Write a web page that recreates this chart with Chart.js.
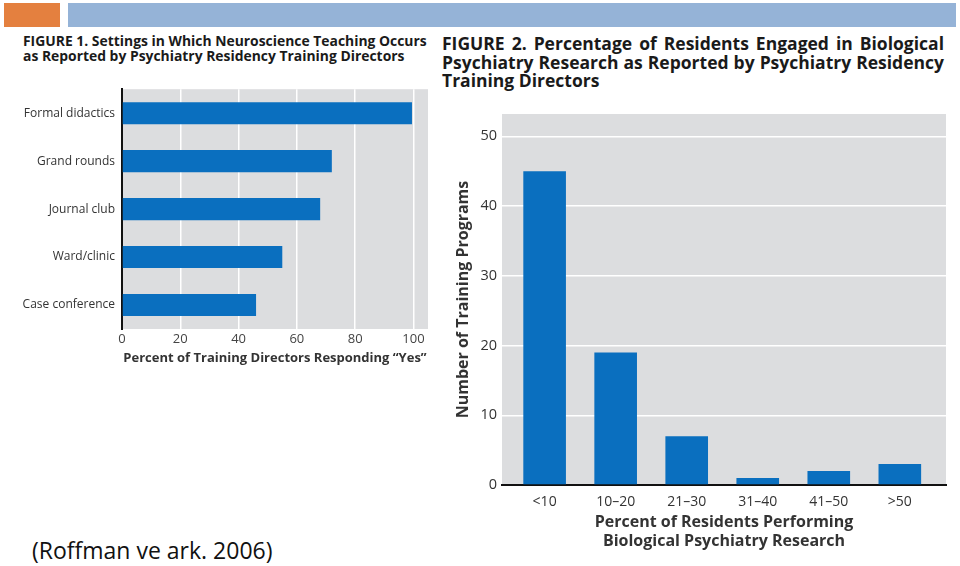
<!DOCTYPE html>
<html>
<head>
<meta charset="utf-8">
<script src="https://cdn.jsdelivr.net/npm/chart.js@4.4.0/dist/chart.umd.min.js"></script>
<style>
  body { margin: 0; width: 960px; height: 566px; background: #fff; position: relative; overflow: hidden; font-family: "Open Sans", sans-serif; color: #222; }
  .abs { position: absolute; }
  .t1 { left: 23px; top: 33px; font-size: 13.9px; line-height: 15px; font-weight: bold; white-space: nowrap; color: #1a1a1a; }
  .t2 { left: 442px; top: 34px; width: 502px; font-size: 17.5px; line-height: 18.5px; font-weight: bold; color: #1a1a1a; }
  .t2 .j { text-align: justify; text-align-last: justify; white-space: nowrap; }
  .cite { left: 32px; top: 535px; font-size: 23px; line-height: 31px; color: #111; white-space: nowrap; }
</style>
</head>
<body>
<div class="abs" style="left:4px;top:3px;width:56px;height:24px;background:#e4803f"></div>
<div class="abs" style="left:68px;top:3px;width:888px;height:24px;background:#95b3d7"></div>

<div class="abs t1">FIGURE 1. Settings in Which Neuroscience Teaching Occurs<br>as Reported by Psychiatry Residency Training Directors</div>
<div class="abs t2">
  <div class="j">FIGURE 2. Percentage of Residents Engaged in Biological</div>
  <div class="j">Psychiatry Research as Reported by Psychiatry Residency</div>
  <div>Training Directors</div>
</div>

<div class="abs" style="left:0;top:75px;width:440px;height:291px"><canvas id="chart1"></canvas></div>
<div class="abs" style="left:440px;top:100px;width:520px;height:460px"><canvas id="chart2"></canvas></div>

<div class="abs cite">(Roffman ve ark. 2006)</div>

<script>
const settings = ['Formal didactics', 'Grand rounds', 'Journal club', 'Ward/clinic', 'Case conference'];
const settingPercent = [99.5, 72, 68, 55, 46];

const residentBins = ['<10', '10\u201320', '21\u201330', '31\u201340', '41\u201350', '>50'];
const programCounts = [45, 19, 7, 1, 2, 3];

const barBlue = '#0a6fbf';
const plotGray = '#dcdddf';
const fontFamily = '"Open Sans", sans-serif';

const grayBackground = {
    id: 'grayBackground',
    beforeDraw(chart) {
        const a = chart.chartArea;
        const ctx = chart.ctx;
        ctx.save();
        ctx.fillStyle = plotGray;
        ctx.fillRect(a.left, a.top, a.right - a.left, a.bottom - a.top);
        ctx.restore();
    }
};

Chart.defaults.animation = false;
Chart.defaults.font.family = fontFamily;
Chart.defaults.color = '#333';

new Chart(document.getElementById('chart1').getContext('2d'), {
    type: 'bar',
    data: {
        labels: settings,
        datasets: [{
            data: settingPercent,
            backgroundColor: barBlue,
            categoryPercentage: 1,
            barPercentage: 0.46
        }]
    },
    options: {
        indexAxis: 'y',
        responsive: true,
        maintainAspectRatio: false,
        layout: { padding: { top: 0, right: 12, left: 0, bottom: 0 } },
        plugins: { legend: { display: false }, tooltip: { enabled: false } },
        scales: {
            x: {
                min: 0,
                max: 105,
                ticks: { stepSize: 20, includeBounds: false, padding: 2, font: { size: 13 }, color: '#444' },
                grid: {
                    drawTicks: false,
                    lineWidth: 1.5,
                    color: ctx => ctx.tick && ctx.tick.value === 0 ? 'rgba(0,0,0,0)' : '#ffffff'
                },
                border: { display: false },
                title: {
                    display: true,
                    text: 'Percent of Training Directors Responding \u201cYes\u201d',
                    font: { size: 13, weight: 'bold' },
                    color: '#333',
                    padding: 0
                },
                afterFit: scale => { scale.height = 37; }
            },
            y: {
                ticks: { padding: 7, font: { size: 12 }, color: '#333' },
                grid: { display: false, drawTicks: false },
                border: { display: true, color: '#111', width: 2 },
                afterFit: scale => { scale.width = 122; }
            }
        }
    },
    plugins: [grayBackground]
});

new Chart(document.getElementById('chart2').getContext('2d'), {
    type: 'bar',
    data: {
        datasets: [{
            data: programCounts.map((v, i) => ({ x: i, y: v })),
            backgroundColor: barBlue,
            categoryPercentage: 1,
            barPercentage: 0.6
        }]
    },
    options: {
        responsive: true,
        maintainAspectRatio: false,
        layout: { padding: { top: 14, right: 14, left: 0, bottom: 9 } },
        plugins: { legend: { display: false }, tooltip: { enabled: false } },
        scales: {
            x: {
                type: 'linear',
                offset: false,
                min: -0.6,
                max: 5.65,
                afterBuildTicks: scale => { scale.ticks = residentBins.map((b, i) => ({ value: i })); },
                ticks: {
                    callback: value => residentBins[value],
                    padding: 9,
                    font: { size: 14 },
                    color: '#333',
                    maxRotation: 0,
                    autoSkip: false
                },
                grid: { display: false, drawTicks: false, offset: false },
                border: { display: true, color: '#111', width: 2 },
                title: {
                    display: true,
                    text: ['Percent of Residents Performing', 'Biological Psychiatry Research'],
                    font: { size: 16, weight: 'bold' },
                    color: '#333',
                    padding: 0
                },
                afterFit: scale => { scale.height = 66; }
            },
            y: {
                min: 0,
                max: 53.2,
                ticks: { stepSize: 10, includeBounds: false, padding: 5, font: { size: 14.5 }, color: '#333' },
                grid: {
                    drawTicks: false,
                    lineWidth: 1.5,
                    color: ctx => ctx.tick && ctx.tick.value === 0 ? 'rgba(0,0,0,0)' : '#ffffff'
                },
                border: { display: false },
                title: {
                    display: true,
                    text: 'Number of Training Programs',
                    font: { size: 16, weight: 'bold' },
                    color: '#333',
                    padding: { top: 14, bottom: 0 }
                },
                afterFit: scale => { scale.width = 62; }
            }
        }
    },
    plugins: [grayBackground]
});
</script>
</body>
</html>
